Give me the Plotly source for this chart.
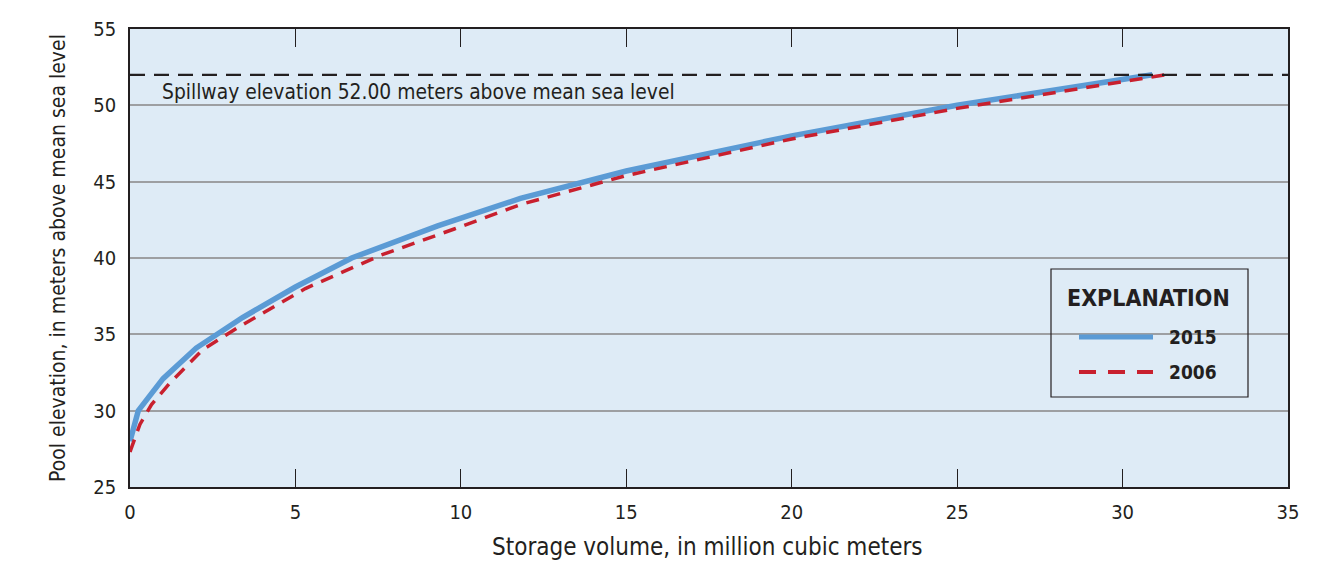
import plotly.graph_objects as go

# Data
vol_2015 = [0, 0.25, 1.0, 2.0, 3.4, 5.0, 6.7, 9.3, 11.8, 15.0, 20.0, 25.0, 30.9]
elev_2015 = [28.0, 30.0, 32.1, 34.1, 36.1, 38.1, 40.0, 42.1, 43.9, 45.7, 48.0, 50.0, 52.0]

vol_2006 = [0, 0.3, 0.65, 1.2, 2.2, 3.3, 5.3, 7.6, 9.8, 11.8, 15.0, 20.0, 25.0, 31.3]
elev_2006 = [27.3, 29.1, 30.4, 31.8, 34.0, 35.5, 38.0, 40.2, 41.9, 43.5, 45.4, 47.8, 49.8, 52.0]

spillway = 52.0
x_ticks = [0, 5, 10, 15, 20, 25, 30, 35]
y_ticks = [25, 30, 35, 40, 45, 50, 55]

FONT = "DejaVu Sans Condensed, Liberation Sans Narrow, Roboto, Arial, sans-serif"
TXT = "#231f20"
BLUE = "#5b9bd5"
RED = "#c8202e"

fig = go.Figure()
fig.add_trace(go.Scatter(x=vol_2015, y=elev_2015, mode="lines", name="2015",
                         line=dict(color=BLUE, width=5.5)))
fig.add_trace(go.Scatter(x=vol_2006, y=elev_2006, mode="lines", name="2006",
                         line=dict(color=RED, width=3.5, dash="13px,9px")))

# spillway line
fig.add_shape(type="line", xref="paper", yref="y", x0=0, x1=1, y0=spillway, y1=spillway,
              line=dict(color="#231f20", width=2.2, dash="15px,9px"))
fig.add_annotation(xref="paper", yref="y", x=0.026, y=spillway - 1.1, xanchor="left", yanchor="middle",
                   text="Spillway elevation 52.00 meters above mean sea level", showarrow=False,
                   font=dict(family=FONT, size=20.8, color=TXT))

# custom legend (positions in plot-area pixels converted to paper)
W, H = 1158.0, 458.0
def px(x):
    return (x - 130) / W
def py(y):
    return (487 - y) / H

fig.add_shape(type="rect", xref="paper", yref="paper", x0=px(1051), x1=px(1248), y0=py(397), y1=py(269),
              line=dict(color="#231f20", width=1.2), fillcolor="rgba(0,0,0,0)")
fig.add_annotation(xref="paper", yref="paper", x=px(1148), y=py(298), text="<b>EXPLANATION</b>",
                   showarrow=False, xanchor="center", yanchor="middle",
                   font=dict(family=FONT, size=23, color=TXT))
fig.add_shape(type="line", xref="paper", yref="paper", x0=px(1079), x1=px(1153), y0=py(337), y1=py(337),
              line=dict(color=BLUE, width=5))
fig.add_shape(type="line", xref="paper", yref="paper", x0=px(1079), x1=px(1153), y0=py(372), y1=py(372),
              line=dict(color=RED, width=4, dash="17px,12px"))
fig.add_annotation(xref="paper", yref="paper", x=px(1167), y=py(337), text="<b>2015</b>",
                   showarrow=False, xanchor="left", yanchor="middle",
                   font=dict(family=FONT, size=19, color=TXT))
fig.add_annotation(xref="paper", yref="paper", x=px(1167), y=py(372), text="<b>2006</b>",
                   showarrow=False, xanchor="left", yanchor="middle",
                   font=dict(family=FONT, size=19, color=TXT))

# x-axis title as annotation for exact placement
fig.add_annotation(xref="paper", yref="paper", x=px(707), y=py(547), text="Storage volume, in million cubic meters",
                   showarrow=False, xanchor="center", yanchor="middle",
                   font=dict(family=FONT, size=24, color=TXT))

fig.update_layout(
    width=1326, height=563,
    margin=dict(l=122, r=46, t=21, b=84),
    paper_bgcolor="white",
    plot_bgcolor="#deebf6",
    showlegend=False,
    font=dict(family=FONT, color=TXT, size=19),
)
fig.update_xaxes(range=[0, 35], tickvals=x_ticks, showgrid=False, zeroline=False, automargin=False,
                 showline=True, linecolor="#231f20", linewidth=1.5, mirror="ticks",
                 ticks="inside", ticklen=18, tickcolor="#231f20", tickwidth=1.2,
                 ticklabelstandoff=6,
                 tickfont=dict(family=FONT, size=20, color=TXT))
fig.update_yaxes(range=[25, 55], tickvals=y_ticks, showgrid=True, gridcolor="#9d9fa2", gridwidth=1.5,
                 zeroline=False, automargin=False, showline=True, linecolor="#231f20", linewidth=1.5,
                 mirror=True, ticks="", ticklabelstandoff=8, tickfont=dict(family=FONT, size=20, color=TXT),
                 title=dict(text="Pool elevation, in meters above mean sea level",
                            font=dict(family=FONT, size=21, color=TXT), standoff=22))

fig.write_html("out.html")
